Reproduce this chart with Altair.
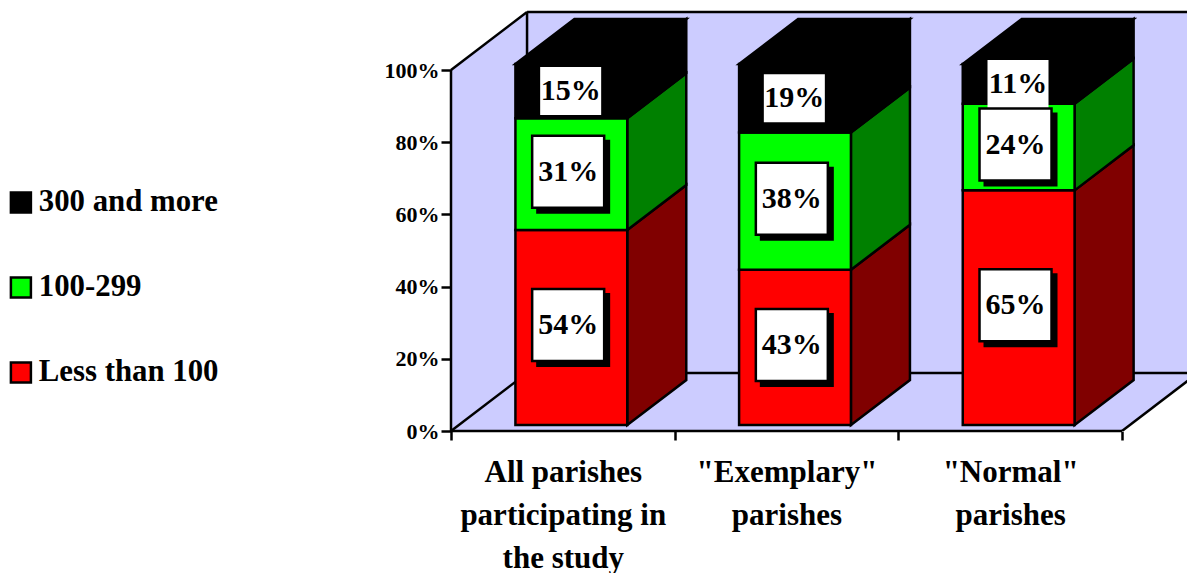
import altair as alt
import pandas as pd

# Chart values
groups = ["All parishes", '"Exemplary"', '"Normal"']
group_lines = [
    ["All parishes", "participating in", "the study"],
    ['"Exemplary"', "parishes"],
    ['"Normal"', "parishes"],
]
segments = ["300 and more", "100-299", "Less than 100"]
under_100 = [54, 43, 65]
from_100_to_299 = [31, 38, 24]
over_300 = [15, 19, 11]
y_ticks = [0, 20, 40, 60, 80, 100]
x_ticks = [0, 1, 2, 3]

# Colours
front_colours = ["#000000", "#00FF00", "#FF0000"]
side_colours = {"300 and more": "#000000", "100-299": "#008000", "Less than 100": "#800000"}
wall_colour = "#CCCCFF"
FONT = "Liberation Serif"
LINE = 2.5

# Oblique projection: one unit of depth shifts a point right and up in data units
DEPTH_X = 0.34
DEPTH_Y = 16.07
BAR_NEAR, BAR_FAR = 0.103, 0.879
BAR_LEFT, BAR_WIDTH = 0.253, 0.5
N = len(groups)

x_scale = alt.Scale(domain=[0, 736 / 223.67], nice=False, zero=False)
y_scale = alt.Scale(domain=[0, 431 / 3.61], nice=False, zero=False)

line_expr = "datum.value == 0 ? {} : datum.value == 1 ? {} : datum.value == 2 ? {} : ''".format(*map(repr, group_lines))

x_axis = alt.Axis(
    values=x_ticks,
    domain=False,
    grid=False,
    tickSize=9,
    tickWidth=LINE,
    tickColor="black",
    labelExpr=line_expr,
    labelOffset=111.8,
    labelAlign="center",
    labelBaseline="top",
    labelPadding=17,
    labelFont=FONT,
    labelFontSize=31,
    labelFontWeight="bold",
    labelColor="black",
    labelLineHeight=43,
    labelLimit=400,
    labelOverlap=False,
    labelBound=False,
    labelFlush=False,
    labelAngle=0,
)
y_axis = alt.Axis(
    values=y_ticks,
    domain=False,
    grid=False,
    tickSize=10,
    tickWidth=LINE,
    tickColor="black",
    labelExpr="datum.value + '%'",
    labelPadding=2,
    labelFont=FONT,
    labelFontSize=22,
    labelFontWeight="bold",
    labelColor="black",
    labelOverlap=False,
    labelBound=False,
    labelFlush=False,
)


def X(field="x"):
    return alt.X(f"{field}:Q", scale=x_scale, axis=x_axis, title=None)


def Y(field="y"):
    return alt.Y(f"{field}:Q", scale=y_scale, axis=y_axis, title=None)


# Walls and floor of the box behind the bars
back_wall = pd.DataFrame([{"x": DEPTH_X, "x2": N + DEPTH_X, "y": DEPTH_Y, "y2": 100 + DEPTH_Y}])
left_wall = pd.DataFrame([
    {"x": 0, "y": 0, "y2": 100},
    {"x": DEPTH_X, "y": DEPTH_Y, "y2": 100 + DEPTH_Y},
])
floor = pd.DataFrame([
    {"y": 0, "x": 0, "x2": N},
    {"y": DEPTH_Y, "x": DEPTH_X, "x2": N + DEPTH_X},
])


def segment_rows(pairs):
    return pd.DataFrame(
        [{"id": i, "order": j, "x": p[0], "y": p[1]} for i, pts in enumerate(pairs) for j, p in enumerate(pts)]
    )


open_edges = segment_rows([
    [(DEPTH_X, 100 + DEPTH_Y), (N + DEPTH_X, 100 + DEPTH_Y)],
    [(DEPTH_X, DEPTH_Y), (N + DEPTH_X, DEPTH_Y)],
    [(N, 0), (N + DEPTH_X, DEPTH_Y)],
])
box_edges = segment_rows([
    [(0, 100), (DEPTH_X, 100 + DEPTH_Y)],
    [(0, 0), (DEPTH_X, DEPTH_Y)],
    [(DEPTH_X, DEPTH_Y), (DEPTH_X, 100 + DEPTH_Y)],
    [(0, 0), (N, 0)],
    [(0, 0), (0, 100)],
])

# Stacked bar faces built from the three series
front, side, top, labels = [], [], [], []
for i in range(N):
    left = i + BAR_LEFT
    right = left + BAR_WIDTH
    base = 0
    stack = [("Less than 100", under_100[i]), ("100-299", from_100_to_299[i]), ("300 and more", over_300[i])]
    for name, value in stack:
        upper = base + value
        front.append({
            "segment": name,
            "x": left + BAR_NEAR * DEPTH_X,
            "x2": right + BAR_NEAR * DEPTH_X,
            "y": base + BAR_NEAR * DEPTH_Y,
            "y2": upper + BAR_NEAR * DEPTH_Y,
        })
        for d in (BAR_NEAR, BAR_FAR):
            side.append({
                "face": f"{i}-{name}",
                "shade": side_colours[name],
                "x": right + d * DEPTH_X,
                "y": base + d * DEPTH_Y,
                "y2": upper + d * DEPTH_Y,
            })
        labels.append({
            "segment": name,
            "label": f"{value}%",
            "x": i + 0.5 + BAR_NEAR * DEPTH_X,
            "y": base + value / 2 + BAR_NEAR * DEPTH_Y,
        })
        base = upper
    for d in (BAR_NEAR, BAR_FAR):
        top.append({
            "face": i,
            "y": 100 + d * DEPTH_Y,
            "x": left + d * DEPTH_X,
            "x2": right + d * DEPTH_X,
        })

front = pd.DataFrame(front)
side = pd.DataFrame(side)
top = pd.DataFrame(top)
labels = pd.DataFrame(labels)
framed = labels[labels["segment"] != "300 and more"]
plain = labels[labels["segment"] == "300 and more"]

wall_layer = (
    alt.Chart(back_wall)
    .mark_rect(fill=wall_colour, clip=True)
    .encode(x=X(), x2="x2:Q", y=Y(), y2="y2:Q")
)
left_wall_layer = alt.Chart(left_wall).mark_area(fill=wall_colour).encode(x=X(), y=Y(), y2="y2:Q")
floor_layer = (
    alt.Chart(floor)
    .mark_area(fill=wall_colour, orient="horizontal", clip=True)
    .encode(y=Y(), x=X(), x2="x2:Q")
)
open_edge_layer = (
    alt.Chart(open_edges)
    .mark_line(stroke="black", strokeWidth=LINE, clip=True)
    .encode(x=X(), y=Y(), detail="id:N", order="order:Q")
)
box_edge_layer = (
    alt.Chart(box_edges)
    .mark_line(stroke="black", strokeWidth=LINE)
    .encode(x=X(), y=Y(), detail="id:N", order="order:Q")
)

top_layer = (
    alt.Chart(top)
    .mark_area(fill="black", stroke="black", strokeWidth=LINE, orient="horizontal")
    .encode(y=Y(), x=X(), x2="x2:Q", detail="face:N")
)
side_layer = (
    alt.Chart(side)
    .mark_area(stroke="black", strokeWidth=LINE)
    .encode(
        x=X(),
        y=Y(),
        y2="y2:Q",
        detail="face:N",
        color=alt.Color("shade:N", scale=None, legend=None),
    )
)
front_layer = (
    alt.Chart(front)
    .mark_rect(stroke="black", strokeWidth=LINE)
    .encode(
        x=X(),
        x2="x2:Q",
        y=Y(),
        y2="y2:Q",
        fill=alt.Fill(
            "segment:N",
            scale=alt.Scale(domain=segments, range=front_colours),
            sort=segments,
            legend=alt.Legend(
                orient="none",
                legendX=-445.5,
                legendY=187,
                title=None,
                symbolType="square",
                symbolSize=400,
                symbolStrokeColor="black",
                symbolStrokeWidth=LINE,
                labelFont=FONT,
                labelFontSize=30.8,
                labelFontWeight="bold",
                labelColor="black",
                labelOffset=2.5,
                rowPadding=53,
                labelLimit=300,
            ),
        ),
    )
)

plain_box = alt.Chart(plain).mark_rect(width=61, height=48, fill="white").encode(x=X(), y=Y())
plain_text = (
    alt.Chart(plain)
    .mark_text(font=FONT, fontSize=30, fontWeight="bold", color="black")
    .encode(x=X(), y=Y(), text="label:N")
)
shadow = (
    alt.Chart(framed)
    .mark_rect(width=74, height=74, fill="black", xOffset=2.5, yOffset=2.5)
    .encode(x=X(), y=Y())
)
framed_box = (
    alt.Chart(framed)
    .mark_rect(width=72, height=72, fill="white", stroke="black", strokeWidth=LINE, xOffset=-2.5, yOffset=-2.5)
    .encode(x=X(), y=Y())
)
framed_text = (
    alt.Chart(framed)
    .mark_text(font=FONT, fontSize=30, fontWeight="bold", color="black", dx=-2.5, dy=-2.5)
    .encode(x=X(), y=Y(), text="label:N")
)

chart = (
    alt.layer(
        wall_layer,
        left_wall_layer,
        floor_layer,
        open_edge_layer,
        box_edge_layer,
        top_layer,
        side_layer,
        front_layer,
        plain_box,
        plain_text,
        shadow,
        framed_box,
        framed_text,
    )
    .properties(
        width=736,
        height=431,
        padding={"left": 451, "top": 0, "right": 0, "bottom": 142},
        autosize=alt.AutoSizeParams(type="none"),
        background="white",
    )
    .configure_view(stroke=None)
)

chart.save("out.html", embed_options={"renderer": "svg", "actions": False})
